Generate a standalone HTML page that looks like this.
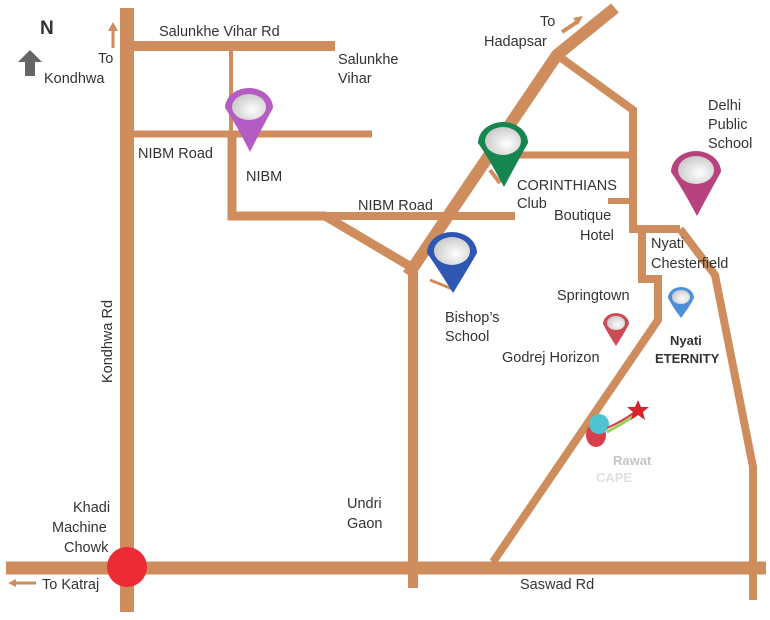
<!DOCTYPE html>
<html><head><style>
html,body{margin:0;padding:0;background:#fff;}
svg{display:block;}
text{font-family:"Liberation Sans",sans-serif;font-size:14.5px;fill:#333;}
</style></head><body>
<svg width="770" height="620" viewBox="0 0 770 620" xmlns="http://www.w3.org/2000/svg">
<defs>
<radialGradient id="hd" cx="0.6" cy="0.6" r="0.6"><stop offset="0" stop-color="#fff"/><stop offset="1" stop-color="#ccc"/></radialGradient>
</defs>
<g stroke="#cf8c5c" fill="none" stroke-linejoin="miter">
<line x1="127" y1="8" x2="127" y2="612" stroke-width="14"/>
<line x1="6" y1="568" x2="766" y2="568" stroke-width="13"/>
<line x1="127" y1="46" x2="335" y2="46" stroke-width="10"/>
<line x1="231" y1="46" x2="231" y2="134" stroke-width="4"/>
<line x1="127" y1="134" x2="372" y2="134" stroke-width="7"/>
<polyline points="232,134 232,216 325,216 413,268" stroke-width="9"/>
<line x1="325" y1="216" x2="515" y2="216" stroke-width="8"/>
<line x1="413" y1="265" x2="413" y2="588" stroke-width="10"/>
<polyline points="408,275 557,55 615,8" stroke-width="12"/>
<polyline points="557,55 633,110 633,229 680,229" stroke-width="8"/>
<polyline points="642,229 642,279 658,279 658,320 493,562" stroke-width="8"/>
<polyline points="680,229 715,275 753,467 753,600" stroke-width="8"/>
<line x1="510" y1="155" x2="633" y2="155" stroke-width="7"/>
<line x1="608" y1="201" x2="633" y2="201" stroke-width="6"/>
<line x1="430" y1="280" x2="455" y2="290" stroke-width="3"/>
<line x1="490" y1="170" x2="500" y2="183" stroke-width="4"/>
<line x1="562" y1="32" x2="577" y2="22" stroke-width="4"/>
<line x1="113" y1="48" x2="113" y2="30" stroke-width="3"/>
<line x1="12" y1="583" x2="36" y2="583" stroke-width="3"/>
</g>
<polygon points="583,16 573,18 578,25" fill="#cf8c5c"/>
<polygon points="113,22 108,31 118,31" fill="#cf8c5c"/>
<polygon points="8,583 16,579 16,587" fill="#cf8c5c"/>
<circle cx="127" cy="567" r="20" fill="#ec2b35"/>
<text x="40" y="34" style="font-weight:bold;font-size:19px" fill="#333">N</text>
<polygon points="30,50 18,62 25,62 25,76 35,76 35,62 42,62" fill="#666"/>
<g>
<path d="M225,108 a24,20 0 1,1 48,0 q-8,14 -23,44 q-15,-30 -25,-44z" fill="#b45cc3"/><ellipse cx="249" cy="107" rx="17" ry="13" fill="url(#hd)"/>
<path d="M478,143 a25,21 0 1,1 50,0 q-8,14 -24,44 q-16,-30 -26,-44z" fill="#16854f"/><ellipse cx="503" cy="141" rx="18" ry="14" fill="url(#hd)"/>
<path d="M427,253 a25,21 0 1,1 50,0 q-8,14 -24,40 q-16,-26 -26,-40z" fill="#2e57b4"/><ellipse cx="452" cy="251" rx="18" ry="14" fill="url(#hd)"/>
<path d="M671,172 a25,21 0 1,1 50,0 q-8,14 -24,44 q-16,-30 -26,-44z" fill="#b8427e"/><ellipse cx="696" cy="170" rx="18" ry="14" fill="url(#hd)"/>
<path d="M603,324 a13,11 0 1,1 26,0 q-4,8 -13,22 q-9,-14 -13,-22z" fill="#cd4b55"/><ellipse cx="616" cy="323" rx="9" ry="7" fill="url(#hd)"/>
<path d="M668,298 a13,11 0 1,1 26,0 q-4,8 -13,20 q-9,-12 -13,-20z" fill="#4d8fd8"/><ellipse cx="681" cy="297" rx="9" ry="7" fill="url(#hd)"/>
</g>
<ellipse cx="596" cy="435" rx="10" ry="12" fill="#d6404a"/>
<circle cx="599" cy="424" r="10" fill="#4fc3cf"/>
<path d="M607,432 q15,-8 30,-18" stroke="#9ccf5a" stroke-width="3" fill="none"/>
<path d="M607,428 q14,-6 28,-16" stroke="#d6404a" stroke-width="2" fill="none"/>
<polygon points="638,400 641,407 649,407 643,412 645,420 638,415 631,420 633,412 627,407 635,407" fill="#d8222f"/>
<text x="613" y="465" style="font-weight:bold;font-size:13px;fill:#c4c4c4">Rawat</text>
<text x="596" y="482" style="font-weight:bold;font-size:13px;fill:#e0e0e0">CAPE</text>
<text x="159" y="36">Salunkhe Vihar Rd</text>
<text x="338" y="64">Salunkhe</text><text x="338" y="83">Vihar</text>
<text x="98" y="63">To</text><text x="44" y="83">Kondhwa</text>
<text x="138" y="158">NIBM Road</text>
<text x="246" y="181">NIBM</text>
<text x="358" y="210">NIBM Road</text>
<text x="540" y="26">To</text><text x="484" y="46">Hadapsar</text>
<text x="708" y="110">Delhi</text><text x="708" y="129">Public</text><text x="708" y="148">School</text>
<text x="517" y="190">CORINTHIANS</text><text x="517" y="208">Club</text>
<text x="554" y="220">Boutique</text><text x="580" y="240">Hotel</text>
<text x="651" y="248">Nyati</text><text x="651" y="268">Chesterfield</text>
<text x="557" y="300">Springtown</text>
<text x="445" y="322">Bishop’s</text><text x="445" y="341">School</text>
<text x="502" y="362">Godrej Horizon</text>
<text x="670" y="345" style="font-weight:bold;font-size:13px">Nyati</text>
<text x="655" y="363" style="font-weight:bold;font-size:13px">ETERNITY</text>
<text x="73" y="512">Khadi</text><text x="52" y="532">Machine</text><text x="64" y="552">Chowk</text>
<text x="42" y="589">To Katraj</text>
<text x="347" y="508">Undri</text><text x="347" y="528">Gaon</text>
<text x="520" y="589">Saswad Rd</text>
<text transform="translate(112,383) rotate(-90)">Kondhwa Rd</text>
</svg>
</body></html>
